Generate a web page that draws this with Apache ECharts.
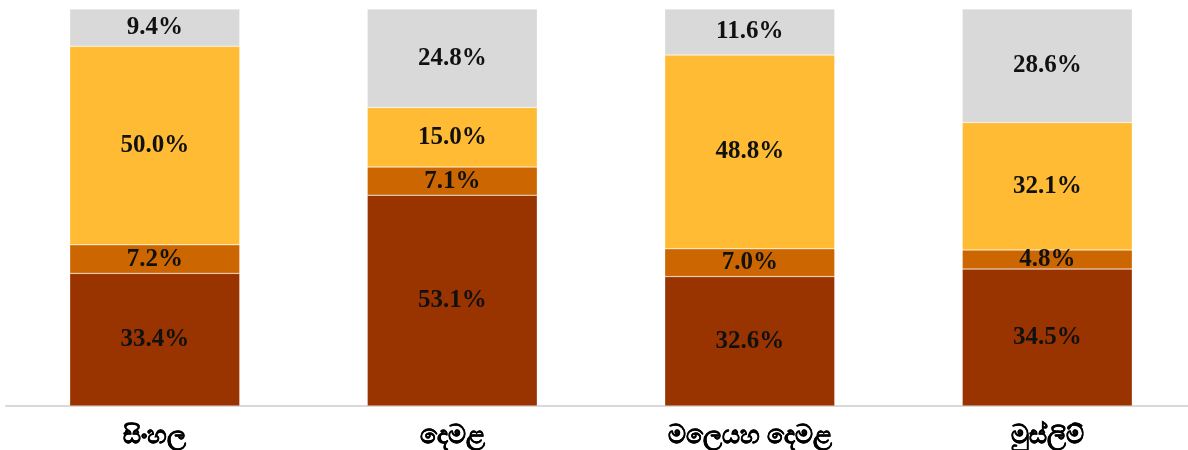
<!DOCTYPE html>
<html>
<head>
<meta charset="utf-8">
<script src="https://cdn.jsdelivr.net/npm/echarts@6/dist/echarts.min.js"></script>
<style>
  html, body { margin: 0; padding: 0; background: #fff; }
  #chart { width: 1188px; height: 450px; }
</style>
</head>
<body>
<div id="chart"></div>
<script>
// කාණ්ඩ
const categories = ['සිංහල', 'දෙමළ', 'මලෙයහ දෙමළ', 'මුස්ලිම්'];
// stacked values, bottom to top (%)
const seg1 = [33.4, 53.1, 32.6, 34.5];
const seg2 = [7.2, 7.1, 7.0, 4.8];
const seg3 = [50.0, 15.0, 48.8, 32.1];
const seg4 = [9.4, 24.8, 11.6, 28.6];
const colors = ['#993300', '#CC6600', '#FFBB33', '#D9D9D9'];

const chart = echarts.init(document.getElementById('chart'));

const mk = (name, data, color) => ({
  name: name,
  type: 'bar',
  stack: 'total',
  barWidth: 170,
  data: data,
  itemStyle: { color: color, borderColor: 'rgba(255,255,255,0.6)', borderWidth: 0.5 },
  label: {
    show: true,
    position: 'inside',
    formatter: p => p.value.toFixed(1) + '%',
    fontFamily: 'Liberation Serif',
    fontWeight: 'bold',
    fontSize: 25,
    color: '#111'
  }
});

const option = {
  animation: false,
  grid: { left: 6, width: 1190, top: 9, bottom: 44, containLabel: false, outerBoundsMode: 'none' },
  xAxis: {
    type: 'category',
    data: categories,
    axisLine: { show: true, lineStyle: { color: '#D9D9D9', width: 2 } },
    axisTick: { show: false },
    axisLabel: {
      fontSize: 25, fontWeight: 'bold', color: '#000', margin: 18,
      textBorderColor: '#000', textBorderWidth: 0.4
    }
  },
  yAxis: {
    type: 'value',
    min: 0,
    max: 100,
    show: false,
    splitLine: { show: false }
  },
  series: [
    mk('1', seg1, colors[0]),
    mk('2', seg2, colors[1]),
    mk('3', seg3, colors[2]),
    mk('4', seg4, colors[3])
  ]
};
chart.setOption(option);
</script>
</body>
</html>
